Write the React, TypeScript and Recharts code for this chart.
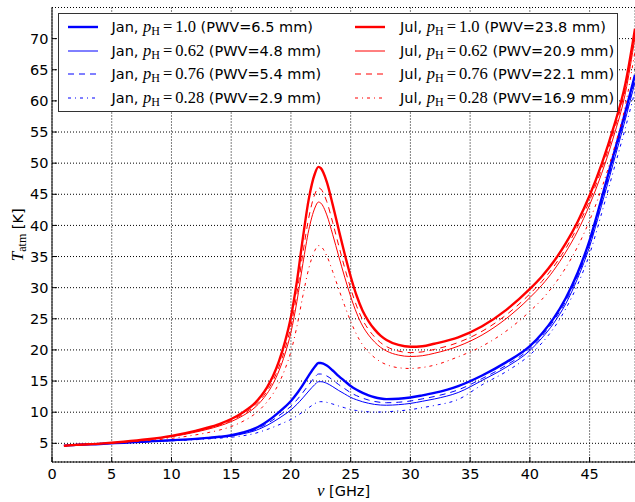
import React from "react";
import { LineChart, Line, XAxis, YAxis, CartesianGrid, Legend, Label } from "recharts";

// frequency grid [GHz]
const FREQ = [
  1, 2, 4, 6, 8, 10, 12, 13, 14, 15, 16, 17, 17.5, 18, 18.5, 19, 19.5, 20, 20.5, 21, 21.5, 22, 22.3,
  22.5, 23, 23.5, 24, 24.5, 25, 25.5, 26, 26.5, 27, 27.5, 28, 29, 30, 31, 32, 34, 36, 38, 40, 41, 42,
  43, 44, 45, 46, 47, 48, 48.8,
];

// T_atm [K], January
const JAN_P100 = [
  4.6, 4.75, 4.9, 5.1, 5.3, 5.5, 5.72, 5.87, 6.05, 6.3, 6.75, 7.4, 7.9, 8.5, 9.2, 10.0, 10.85, 11.8, 13.0,
  14.4, 15.9, 17.3, 17.9, 17.9, 17.5, 16.7, 15.8, 15.0, 14.2, 13.6, 13.1, 12.7, 12.4, 12.2, 12.1, 12.15,
  12.35, 12.7, 13.1, 14.2, 15.9, 18.0, 20.6, 22.6, 25.1, 28.3, 32.4, 37.6, 44.3, 51.3, 58.3, 64.2,
];
const JAN_P062 = [
  4.6, 4.75, 4.9, 5.09, 5.27, 5.46, 5.66, 5.8, 5.96, 6.17, 6.53, 7.03, 7.42, 7.88, 8.42, 9.02, 9.66,
  10.37, 11.26, 12.3, 13.41, 14.44, 14.89, 14.9, 14.64, 14.1, 13.48, 12.93, 12.38, 11.99, 11.67, 11.43,
  11.25, 11.15, 11.12, 11.21, 11.41, 11.75, 12.12, 13.16, 15.1, 17.2, 19.9, 21.9, 24.3, 27.4, 31.5, 36.6,
  43.2, 50.1, 57.1, 63.0,
];
const JAN_P076 = [
  4.6, 4.75, 4.9, 5.09, 5.28, 5.48, 5.69, 5.83, 6.0, 6.22, 6.62, 7.19, 7.63, 8.15, 8.77, 9.45, 10.16,
  10.96, 11.98, 13.16, 14.43, 15.62, 16.13, 16.13, 15.82, 15.17, 14.43, 13.78, 13.13, 12.65, 12.26,
  11.95, 11.72, 11.58, 11.52, 11.6, 11.8, 12.14, 12.52, 13.59, 15.4, 17.5, 20.2, 22.2, 24.7, 27.8, 31.9,
  37.0, 43.6, 50.6, 57.6, 63.5,
];
const JAN_P028 = [
  4.6, 4.75, 4.9, 5.07, 5.24, 5.41, 5.58, 5.7, 5.83, 5.98, 6.22, 6.6, 6.9, 7.22, 7.58, 7.98, 8.39,
  8.84, 9.4, 10.05, 10.74, 11.38, 11.67, 11.69, 11.58, 11.31, 10.99, 10.71, 10.43, 10.27, 10.14, 10.06,
  10.02, 10.03, 10.07, 10.21, 10.41, 10.73, 11.07, 12.05, 14.4, 16.5, 19.2, 21.1, 23.5, 26.6, 30.5, 35.4,
  41.9, 48.8, 55.7, 61.6,
];

// T_atm [K], July
const JUL_P100 = [
  4.6, 4.75, 4.95, 5.25, 5.65, 6.2, 7.0, 7.5, 8.1, 8.9, 10.0, 11.5, 12.6, 14.0, 15.8, 18.2, 21.3, 25.3,
  31.0, 38.0, 44.3, 48.3, 49.4, 49.2, 47.0, 43.3, 39.3, 35.4, 31.8, 28.7, 26.3, 24.6, 23.3, 22.3, 21.6,
  20.8, 20.5, 20.6, 21.0, 22.0, 23.8, 26.4, 29.8, 31.8, 34.2, 37.1, 40.6, 44.8, 49.8, 55.7, 62.8, 71.6,
];
const JUL_P062 = [
  4.6, 4.75, 4.94, 5.22, 5.58, 6.07, 6.79, 7.24, 7.78, 8.49, 9.46, 10.79, 11.76, 12.98, 14.55, 16.65,
  19.34, 22.82, 27.77, 33.85, 39.32, 42.79, 43.75, 43.59, 41.69, 38.5, 35.05, 31.69, 28.58, 25.91, 23.85,
  22.39, 21.28, 20.42, 19.83, 19.17, 18.95, 19.07, 19.46, 20.6, 22.4, 25.0, 28.4, 30.4, 32.8, 35.7, 39.1,
  43.3, 48.3, 54.2, 61.3, 70.2,
];
const JUL_P076 = [
  4.6, 4.75, 4.95, 5.23, 5.6, 6.12, 6.88, 7.34, 7.91, 8.66, 9.68, 11.08, 12.1, 13.4, 15.06, 17.27, 20.13,
  23.82, 29.07, 35.52, 41.32, 45.01, 46.03, 45.85, 43.83, 40.44, 36.76, 33.18, 29.88, 27.04, 24.84,
  23.28, 22.09, 21.18, 20.54, 19.82, 19.57, 19.69, 20.08, 21.2, 23.0, 25.6, 29.0, 31.0, 33.4, 36.3, 39.8,
  44.0, 49.0, 54.9, 62.0, 70.8,
];
const JUL_P028 = [
  4.6, 4.75, 4.94, 5.18, 5.45, 5.8, 6.35, 6.7, 7.12, 7.7, 8.55, 9.75, 10.6, 11.65, 12.95, 14.68, 16.9,
  19.75, 23.77, 28.7, 33.14, 35.97, 36.76, 36.63, 35.12, 32.56, 29.79, 27.09, 24.6, 22.46, 20.81, 19.65,
  18.77, 18.1, 17.64, 17.14, 17.02, 17.18, 17.55, 18.9, 20.6, 23.0, 26.2, 28.1, 30.4, 33.2, 36.6, 40.8,
  45.9, 52.0, 59.3, 68.0,
];

const X_TICKS = [0, 5, 10, 15, 20, 25, 30, 35, 40, 45];
const Y_TICKS = [5, 10, 15, 20, 25, 30, 35, 40, 45, 50, 55, 60, 65, 70];

// legend: month, p_H, PWV
const SERIES = [
  { key: "jan100", month: "Jan", p: "1.0", pwv: "6.5", color: "#0000ff", width: 2.4, dash: undefined },
  { key: "jan062", month: "Jan", p: "0.62", pwv: "4.8", color: "#0000ff", width: 1, dash: undefined },
  { key: "jan076", month: "Jan", p: "0.76", pwv: "5.4", color: "#0000ff", width: 1, dash: "6 5" },
  { key: "jan028", month: "Jan", p: "0.28", pwv: "2.9", color: "#0000ff", width: 1, dash: "3 4 1 4" },
  { key: "jul100", month: "Jul", p: "1.0", pwv: "23.8", color: "#ff0000", width: 2.4, dash: undefined },
  { key: "jul062", month: "Jul", p: "0.62", pwv: "20.9", color: "#ff0000", width: 1, dash: undefined },
  { key: "jul076", month: "Jul", p: "0.76", pwv: "22.1", color: "#ff0000", width: 1, dash: "6 5" },
  { key: "jul028", month: "Jul", p: "0.28", pwv: "16.9", color: "#ff0000", width: 1, dash: "3 4 1 4" },
];

const VALUES: Record<string, number[]> = {
  jan100: JAN_P100,
  jan062: JAN_P062,
  jan076: JAN_P076,
  jan028: JAN_P028,
  jul100: JUL_P100,
  jul062: JUL_P062,
  jul076: JUL_P076,
  jul028: JUL_P028,
};

const data = FREQ.map((f, i) => {
  const row: Record<string, number> = { f };
  for (const s of SERIES) row[s.key] = VALUES[s.key][i];
  return row;
});

const SANS = "'DejaVu Sans', sans-serif";
const SERIF = "'Liberation Serif', 'DejaVu Serif', serif";

function LegendBox() {
  const rowY = [13.4, 36.7, 60, 84];
  return (
    <div
      style={{
        position: "relative",
        width: 560,
        height: 99,
        border: "1px solid #333",
        background: "#fff",
        boxSizing: "border-box",
        fontFamily: SANS,
        fontSize: 14.5,
        color: "#000",
      }}
    >
      {SERIES.map((s, i) => {
        const col = i < 4 ? 0 : 1;
        const row = i % 4;
        const lx = col === 0 ? 9 : 296;
        const tx = col === 0 ? 52.5 : 341;
        const y = rowY[row];
        return (
          <React.Fragment key={s.key}>
            <svg style={{ position: "absolute", left: lx, top: y - 5 }} width={31} height={10}>
              <line x1={0} y1={5} x2={30} y2={5} stroke={s.color} strokeWidth={s.width} strokeDasharray={s.dash} />
            </svg>
            <div style={{ position: "absolute", left: tx, top: y - 9, whiteSpace: "nowrap", lineHeight: "18px" }}>
              {s.month},{" "}
              <span style={{ fontFamily: SERIF, fontSize: 16.5 }}>
                <i>p</i>
                <span style={{ fontSize: 12, position: "relative", top: 3 }}>H</span>
                <span style={{ margin: "0 3px" }}>=</span>
                {s.p}
              </span>{" "}
              (PWV={s.pwv} mm)
            </div>
          </React.Fragment>
        );
      })}
    </div>
  );
}

function YLabel(props: any) {
  const vb = props.viewBox || {};
  const cy = vb.y + vb.height / 2;
  const x = 23;
  return (
    <text transform={`translate(${x},${cy}) rotate(-90)`} textAnchor="middle" fontSize={14.5} fill="#000">
      <tspan fontFamily={SERIF} fontStyle="italic" fontSize={17}>T</tspan>
      <tspan fontFamily={SERIF} fontSize={12} dy={3}>atm</tspan>
      <tspan fontFamily={SANS} dy={-3}>{"\u00a0[K]"}</tspan>
    </text>
  );
}

function XLabel(props: any) {
  const vb = props.viewBox || {};
  const cx = vb.x + vb.width / 2;
  return (
    <text x={cx} y={496} textAnchor="middle" fontSize={14.5} fill="#000">
      <tspan fontFamily={SERIF} fontStyle="italic" fontSize={17}>ν</tspan>
      <tspan fontFamily={SANS}>{"\u00a0[GHz]"}</tspan>
    </text>
  );
}

export default function App() {
  return (
    <div style={{ position: "absolute", left: 0, top: 0, background: "#fff" }}>
      <LineChart width={635} height={502} data={data} margin={{ top: 7.5, right: 0, bottom: 0, left: 0 }}>
        <CartesianGrid stroke="#000" strokeWidth={1} strokeDasharray="1 2" vertical horizontal />
        <XAxis
          xAxisId="top"
          orientation="top"
          dataKey="f"
          type="number"
          domain={[0, 48.8]}
          ticks={X_TICKS}
          height={0}
          tick={false}
          tickSize={-5}
          stroke="#000"
          allowDataOverflow
        />
        <XAxis
          dataKey="f"
          type="number"
          domain={[0, 48.8]}
          ticks={X_TICKS}
          height={40}
          tickSize={-5}
          tickMargin={12}
          stroke="#000"
          tick={{ fill: "#000", fontSize: 14.5, fontFamily: SANS }}
          allowDataOverflow
        >
          <Label content={<XLabel />} />
        </XAxis>
        <YAxis
          type="number"
          domain={[2, 75]}
          ticks={Y_TICKS}
          width={52}
          tickSize={-5}
          tickMargin={8.5}
          stroke="#000"
          tick={{ fill: "#000", fontSize: 14.5, fontFamily: SANS }}
          allowDataOverflow
        >
          <Label content={<YLabel />} />
        </YAxis>
        {SERIES.map((s) => (
          <Line
            key={s.key}
            dataKey={s.key}
            name={s.key}
            type="monotone"
            stroke={s.color}
            strokeWidth={s.width}
            strokeDasharray={s.dash}
            dot={false}
            activeDot={false}
            isAnimationActive={false}
          />
        ))}
        <Legend
          layout="horizontal"
          align="center"
          verticalAlign="middle"
          content={() => <LegendBox />}
          wrapperStyle={{ top: 13, left: 58, width: 560, height: 99 }}
        />
      </LineChart>
    </div>
  );
}
